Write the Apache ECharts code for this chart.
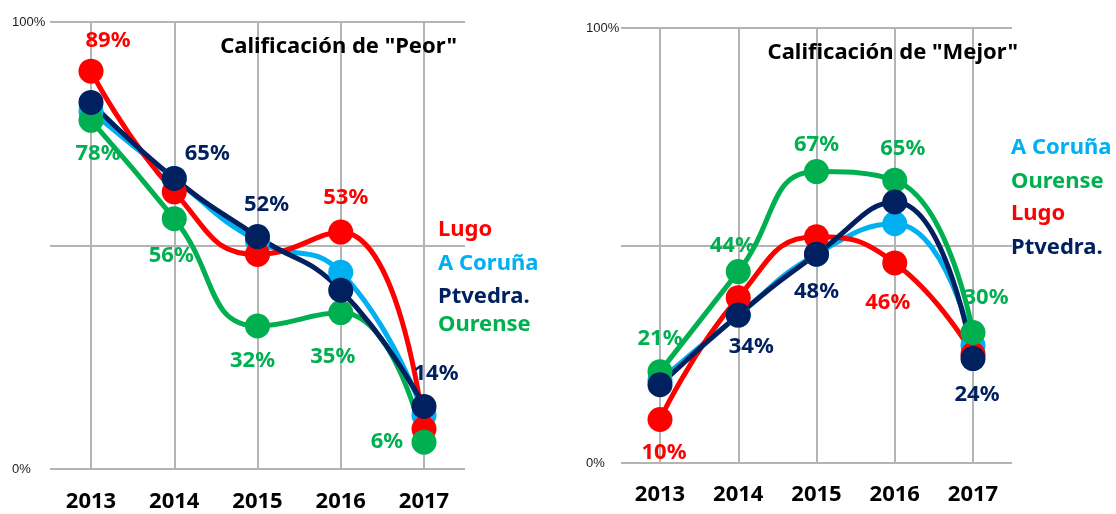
<!DOCTYPE html>
<html>
	<head>
		<meta charset="utf-8">
		<title>Calificación</title>
		<style type="text/css">
			* {
				margin: 0;
				padding: 0;
			}

			html,
			body {
				width: 100%;
				height: 100%;
				background: #fff;
			}

			#box {
				width: 1116px;
				height: 514px;
			}
		</style>
	</head>
	<body>
		<div id="box"></div>
		<script src="https://cdn.jsdelivr.net/npm/echarts@6/dist/echarts.min.js"></script>
		<script type="text/javascript">
			var anios = ['2013', '2014', '2015', '2016', '2017']
			var ticksY = [0, 50, 100]

			// Calificación de "Peor"
			var peorLugo = [89, 62, 48, 53, 9]
			var peorCoruna = [80, 65, 51, 44, 12]
			var peorPtvedra = [82, 65, 52, 40, 14]
			var peorOurense = [78, 56, 32, 35, 6]

			// Calificación de "Mejor"
			var mejorLugo = [10, 38, 52, 46, 25]
			var mejorCoruna = [19, 34, 48, 55, 27]
			var mejorPtvedra = [18, 34, 48, 60, 24]
			var mejorOurense = [21, 44, 67, 65, 30]

			var colores = {
				'Lugo': '#ff0000',
				'A Coruña': '#00b0f0',
				'Ptvedra.': '#002060',
				'Ourense': '#00b050'
			}

			// donde va cada etiqueta (desplazamiento desde el punto)
			var etiquetasPeor = {
				'Lugo': { 0: [17, -30], 3: [5, -34] },
				'A Coruña': {},
				'Ptvedra.': { 1: [33, -25], 2: [9, -32], 4: [12, -33] },
				'Ourense': { 0: [7, 33], 1: [-3, 37], 2: [-5, 35], 3: [-8, 44], 4: [-37, 0] }
			}
			var etiquetasMejor = {
				'Lugo': { 0: [4, 33], 3: [-7, 40] },
				'A Coruña': {},
				'Ptvedra.': { 1: [13, 32], 2: [0, 38], 4: [4, 36] },
				'Ourense': { 0: [0, -33], 1: [-6, -26], 2: [0, -27], 3: [8, -32], 4: [13, -35] }
			}

			var fuente = 'Noto Sans'
			var gris = '#b4b4b4'

			window.onload = function() {
				charts()
			}

			function serie(nombre, valores, idx, etiquetas) {
				var datos = []
				for (let i = 0; i < valores.length; i++) {
					let off = etiquetas[nombre][i]
					datos.push({
						value: valores[i],
						label: {
							show: off ? true : false,
							offset: off || [0, 0]
						}
					})
				}
				return {
					name: nombre,
					type: 'line',
					xAxisIndex: idx,
					yAxisIndex: idx,
					smooth: 0.5,
					symbol: 'circle',
					symbolSize: 25,
					color: colores[nombre],
					lineStyle: {
						width: 5,
						color: colores[nombre]
					},
					itemStyle: {
						color: colores[nombre]
					},
					label: {
						position: 'inside',
						formatter: '{c}%',
						color: colores[nombre],
						fontFamily: fuente,
						fontWeight: 'bold',
						fontSize: 22
					},
					emphasis: { disabled: true },
					data: datos
				}
			}

			function ejeY(idx, margen, show) {
				return {
					type: 'value',
					gridIndex: idx,
					min: ticksY[0],
					max: ticksY[ticksY.length - 1],
					interval: ticksY[1] - ticksY[0],
					show: show,
					axisLine: { show: false },
					axisTick: { show: false },
					splitLine: {
						show: show,
						lineStyle: { color: gris, width: 2 }
					},
					axisLabel: {
						align: 'left',
						margin: margen,
						fontFamily: 'Liberation Sans',
						fontSize: 13,
						color: '#222',
						formatter: function(v) {
							return (v == ticksY[0] || v == ticksY[ticksY.length - 1]) ? v + '%' : ''
						}
					}
				}
			}

			function ejeX(idx, margen, show) {
				return {
					type: 'category',
					gridIndex: idx,
					data: anios,
					boundaryGap: false,
					show: show,
					axisLine: { show: false },
					axisTick: { show: false },
					splitLine: {
						show: true,
						lineStyle: { color: gris, width: 2 }
					},
					axisLabel: {
						margin: margen,
						fontFamily: fuente,
						fontWeight: 'bold',
						fontSize: 22,
						color: '#000'
					}
				}
			}

			function texto(t, x, y, color) {
				return {
					type: 'text',
					x: x,
					y: y,
					style: {
						text: t,
						fill: color,
						font: 'bold 22px "Noto Sans"',
						verticalAlign: 'middle',
						textVerticalAlign: 'middle'
					}
				}
			}

			function charts() {
				var myChart = echarts.init(document.getElementById('box'))
				var option = {
					animation: false,
					title: [{
						text: 'Calificación de "Peor"',
						right: 654,
						top: 31,
						textStyle: { fontFamily: fuente, fontWeight: 'bold', fontSize: 22, color: '#000' }
					}, {
						text: 'Calificación de "Mejor"',
						right: 93,
						top: 37,
						textStyle: { fontFamily: fuente, fontWeight: 'bold', fontSize: 22, color: '#000' }
					}],
					grid: [
						{ left: 50, top: 22, width: 415, height: 447 },
						{ left: 91, top: 22, width: 333, height: 447 },
						{ left: 621, top: 28, width: 391, height: 435 },
						{ left: 660, top: 28, width: 313, height: 435 }
					],
					xAxis: [
						{ type: 'category', gridIndex: 0, data: anios, show: false },
						ejeX(1, 22, true),
						{ type: 'category', gridIndex: 2, data: anios, show: false },
						ejeX(3, 21, true)
					],
					yAxis: [
						ejeY(0, 38, true),
						ejeY(1, 0, false),
						ejeY(2, 35, true),
						ejeY(3, 0, false)
					],
					graphic: [
						texto('Lugo', 438, 230, colores['Lugo']),
						texto('A Coruña', 438, 264, colores['A Coruña']),
						texto('Ptvedra.', 438, 297, colores['Ptvedra.']),
						texto('Ourense', 438, 325, colores['Ourense']),
						texto('A Coruña', 1011, 148, colores['A Coruña']),
						texto('Ourense', 1011, 182, colores['Ourense']),
						texto('Lugo', 1011, 214, colores['Lugo']),
						texto('Ptvedra.', 1011, 248, colores['Ptvedra.'])
					],
					series: [
						serie('A Coruña', peorCoruna, 1, etiquetasPeor),
						serie('Lugo', peorLugo, 1, etiquetasPeor),
						serie('Ourense', peorOurense, 1, etiquetasPeor),
						serie('Ptvedra.', peorPtvedra, 1, etiquetasPeor),
						serie('A Coruña', mejorCoruna, 3, etiquetasMejor),
						serie('Lugo', mejorLugo, 3, etiquetasMejor),
						serie('Ourense', mejorOurense, 3, etiquetasMejor),
						serie('Ptvedra.', mejorPtvedra, 3, etiquetasMejor)
					]
				}
				myChart.setOption(option)
			}
		</script>
	</body>
</html>
